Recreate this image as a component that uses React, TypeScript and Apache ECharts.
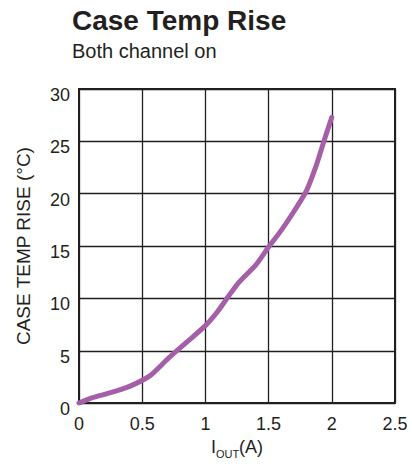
import React, { useEffect, useRef } from "react";
import * as echarts from "echarts";

const titleText = "Case Temp Rise";
const subtitleText = "Both channel on";
const yAxisName = "CASE TEMP RISE (°C)";
const xTicks = [0, 0.5, 1, 1.5, 2, 2.5];
const yTicks = [0, 5, 10, 15, 20, 25, 30];
const currentA = [0, 0.1, 0.25, 0.4, 0.56, 0.7, 0.85, 1.0, 1.1, 1.17, 1.27, 1.4, 1.5, 1.6, 1.7, 1.8, 1.88, 1.94, 2.0];
const tempRise = [0, 0.5, 1.0, 1.6, 2.6, 4.2, 5.8, 7.4, 8.8, 10.0, 11.6, 13.2, 14.9, 16.5, 18.3, 20.3, 22.8, 25.1, 27.3];

const FONT = "'Liberation Sans', Arial, Helvetica, sans-serif";
const INK = "#231f20";

export default function App() {
  const ref = useRef<HTMLDivElement>(null);
  useEffect(() => {
    if (!ref.current) return;
    const chart = echarts.init(ref.current, undefined, { renderer: "svg" });
    chart.setOption({
      animation: false,
      title: {
        text: titleText,
        subtext: subtitleText,
        left: 72,
        top: 6,
        itemGap: 7,
        padding: 0,
        textStyle: { fontFamily: FONT, fontSize: 28, fontWeight: "bold", color: INK, lineHeight: 28 },
        subtextStyle: { fontFamily: FONT, fontSize: 20, color: INK, lineHeight: 20 },
      },
      grid: {
        left: 79,
        right: 17,
        top: 89,
        bottom: 58,
        show: true,
        borderColor: INK,
        borderWidth: 2,
        containLabel: false,
      },
      xAxis: {
        type: "value",
        min: xTicks[0],
        max: xTicks[xTicks.length - 1],
        interval: 0.5,
        name: "{i|I}{sub|OUT}{i|(A)}",
        nameLocation: "middle",
        nameGap: 30,
        nameTextStyle: {
          rich: {
            i: { fontFamily: FONT, fontSize: 18, color: INK, lineHeight: 18, verticalAlign: "top" },
            sub: { fontFamily: FONT, fontSize: 11, color: INK, lineHeight: 11, padding: [10, 0, 0, 0], verticalAlign: "top" },
          },
        },
        axisLine: { show: false },
        axisTick: { show: false },
        splitLine: { show: true, lineStyle: { color: INK, width: 1.3 } },
        axisLabel: { fontFamily: FONT, fontSize: 18, color: INK, margin: 12 },
      },
      yAxis: {
        type: "value",
        min: yTicks[0],
        max: yTicks[yTicks.length - 1],
        interval: 5,
        name: yAxisName,
        nameLocation: "middle",
        nameGap: 46,
        nameTextStyle: { fontFamily: FONT, fontSize: 19, color: INK },
        axisLine: { show: false },
        axisTick: { show: false },
        splitLine: { show: true, lineStyle: { color: INK, width: 1.3 } },
        axisLabel: { fontFamily: FONT, fontSize: 18, color: INK, margin: 9, verticalAlign: "top", lineHeight: 12 },
      },
      series: [
        {
          type: "line",
          data: currentA.map((x, i) => [x, tempRise[i]]),
          showSymbol: false,
          smooth: 0.2,
          lineStyle: { color: "#a55ea8", width: 5, cap: "round", join: "round" },
          z: 3,
        },
      ],
    });
    return () => chart.dispose();
  }, []);
  return <div ref={ref} style={{ width: 412, height: 464, position: "absolute", left: 0, top: 0 }} />;
}
